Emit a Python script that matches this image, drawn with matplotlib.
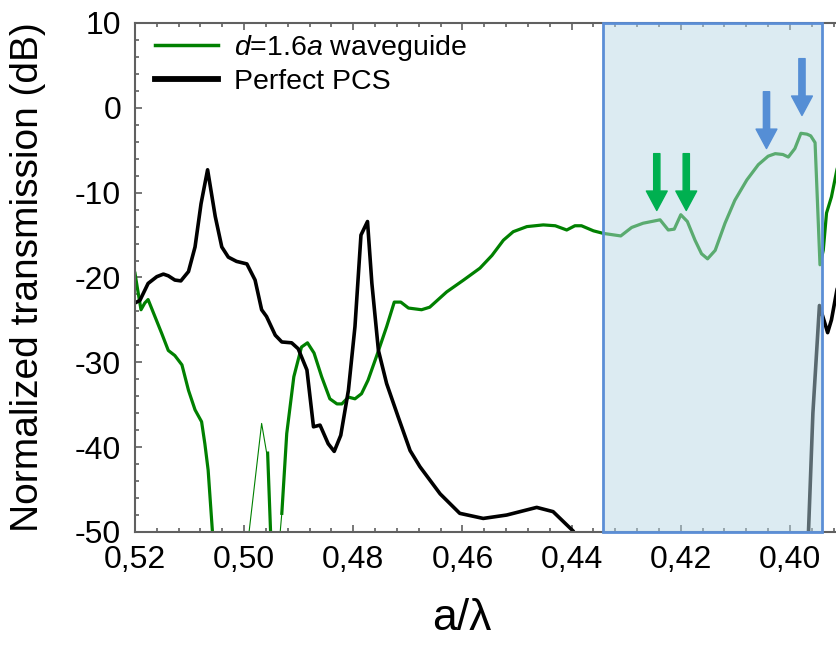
import numpy as np
import matplotlib
matplotlib.use('Agg')
import matplotlib.pyplot as plt
from matplotlib.lines import Line2D
from matplotlib.patches import Rectangle
from matplotlib.ticker import MultipleLocator

plt.rcParams['font.family'] = ['Liberation Sans', 'DejaVu Sans']
plt.rcParams['mathtext.fontset'] = 'custom'
plt.rcParams['mathtext.rm'] = 'Liberation Sans'
plt.rcParams['mathtext.it'] = 'Liberation Sans:italic'

# d=1.6a waveguide (thick line, NaN = gap below -50 dB)
green_x = [0.5200, 0.5196, 0.5189, 0.5182, 0.5176, 0.5166, 0.5151, 0.5139, 0.5127, 0.5114,
           0.5102, 0.5090, 0.5078, 0.5072, 0.5066, 0.5057, np.nan,
           0.4957, 0.4951, np.nan,
           0.4931, 0.4922, 0.4909, 0.4895, 0.4884, 0.4872, 0.4858, 0.4843, 0.4830, 0.4821,
           0.4809, 0.4797, 0.4785, 0.4773, 0.4757, 0.4739, 0.4725, 0.4713, 0.4699, 0.4675,
           0.4660, 0.4629, 0.4598, 0.4568, 0.4546, 0.4525, 0.4507, 0.4482, 0.4452, 0.4430,
           0.4409, 0.4394, 0.4382, 0.4360, 0.4342, 0.4310, 0.4290, 0.4269, 0.4238, 0.4223,
           0.4212, 0.4200, 0.4188, 0.4174, 0.4162, 0.4151, 0.4137, 0.4119, 0.4101, 0.4079,
           0.4058, 0.4040, 0.4027, 0.4013, 0.4003, 0.3991, 0.3980, 0.3969, 0.3962, 0.3954,
           0.3945, 0.3939, 0.3933, 0.3924, 0.3914, 0.3904]
green_y = [-19.5, -21.1, -23.8, -23.0, -22.6, -24.2, -26.6, -28.6, -29.2, -30.3,
           -33.3, -35.6, -37.0, -39.6, -42.7, -51.0, np.nan,
           -40.7, -51.0, np.nan,
           -47.8, -38.4, -31.7, -28.2, -27.7, -28.9, -31.7, -34.3, -34.9, -34.9,
           -34.1, -34.3, -33.7, -32.1, -29.2, -25.8, -22.9, -22.9, -23.6, -23.8,
           -23.5, -21.7, -20.3, -18.9, -17.4, -15.6, -14.6, -14.0, -13.8, -13.9,
           -14.4, -13.9, -13.9, -14.5, -14.8, -15.1, -14.1, -13.6, -13.2, -14.4,
           -14.3, -12.6, -13.4, -15.6, -17.2, -17.8, -16.8, -13.6, -10.9, -8.5,
           -6.7, -5.7, -5.4, -5.5, -5.8, -4.8, -3.0, -3.1, -3.3, -4.1,
           -18.5, -16.8, -12.4, -10.5, -7.3, -5.0]

# thin green pieces
green_thin_x = [0.4991, 0.4968, 0.4959, np.nan, 0.4934, 0.4931]
green_thin_y = [-50.0, -37.2, -40.6, np.nan, -50.0, -47.8]

# Perfect PCS
pcs_x = [0.5200, 0.5191, 0.5176, 0.5160, 0.5148, 0.5139, 0.5127, 0.5116, 0.5102, 0.5090,
         0.5079, 0.5067, 0.5053, 0.5041, 0.5029, 0.5014, 0.4995, 0.4980, 0.4968, 0.4959,
         0.4943, 0.4931, 0.4913, 0.4901, 0.4885, 0.4873, 0.4861, 0.4846, 0.4835, 0.4823,
         0.4809, 0.4797, 0.4786, 0.4774, 0.4766, 0.4754, 0.4739, 0.4718, 0.4696, 0.4678,
         0.4641, 0.4605, 0.4562, 0.4519, 0.4464, 0.4434, 0.4397, 0.4385, np.nan,
         0.3967, 0.3958, 0.3946, 0.3936, 0.3931, 0.3924, 0.3914, 0.3905]
pcs_y = [-23.0, -22.7, -20.7, -19.9, -19.6, -19.8, -20.3, -20.4, -19.3, -16.4,
         -11.3, -7.3, -12.8, -16.4, -17.6, -18.1, -18.4, -20.3, -23.8, -24.6,
         -26.8, -27.6, -27.7, -28.4, -30.9, -37.6, -37.4, -39.6, -40.5, -38.6,
         -33.3, -25.8, -15.0, -13.4, -20.7, -28.6, -32.5, -36.4, -40.4, -42.3,
         -45.5, -47.8, -48.4, -48.0, -47.1, -47.6, -49.9, -51.6, np.nan,
         -51.6, -36.0, -23.3, -25.4, -26.5, -25.0, -21.5, -19.1]

# highlighted band and arrows
band = (0.4343, 0.3941)
green_arrow_x = [0.4244, 0.4190]
green_arrow_y = [(-5.4, -12.1), (-5.4, -12.1)]
blue_arrow_x = [0.4043, 0.3978]
blue_arrow_y = [(1.9, -4.8), (5.8, -0.9)]

xticks = [0.52, 0.50, 0.48, 0.46, 0.44, 0.42, 0.40]
xticklabels = ['0,52', '0,50', '0,48', '0,46', '0,44', '0,42', '0,40']
yticks = [10, 0, -10, -20, -30, -40, -50]
yticklabels = ['10', '0', '-10', '-20', '-30', '-40', '-50']

fig = plt.figure(figsize=(8.37, 6.48), dpi=100)
ax = fig.add_axes([135 / 837, 1 - 532 / 648, 715 / 837, 509 / 648])

ax.plot(green_x, green_y, color='#008000', lw=2.3, zorder=2)
ax.plot(green_thin_x, green_thin_y, color='#008000', lw=0.8, zorder=2)
ax.plot(pcs_x, pcs_y, color='black', lw=2.6, zorder=2)

# translucent band drawn over the curves
ax.axvspan(band[0], band[1], facecolor='#b8d8e5', alpha=0.49, lw=0, zorder=3)
ax.add_patch(Rectangle((band[0], -50), band[1] - band[0], 60, fill=False,
                       edgecolor='#5b8ed6', lw=2, zorder=4, clip_on=False))

arrow_style = 'simple,head_length=14,head_width=15,tail_width=4.5'
for x, (y0, y1) in zip(green_arrow_x, green_arrow_y):
    ax.annotate('', xy=(x, y1), xytext=(x, y0),
                arrowprops=dict(arrowstyle=arrow_style, mutation_scale=1,
                                color='#00b050', shrinkA=0, shrinkB=0),
                zorder=5)
for x, (y0, y1) in zip(blue_arrow_x, blue_arrow_y):
    ax.annotate('', xy=(x, y1), xytext=(x, y0),
                arrowprops=dict(arrowstyle=arrow_style, mutation_scale=1,
                                color='#558ed5', shrinkA=0, shrinkB=0),
                zorder=5)

ax.set_xlim(0.52, 0.3890)
ax.set_ylim(-50, 10)
ax.set_xticks(xticks)
ax.set_xticklabels(xticklabels)
ax.set_yticks(yticks)
ax.set_yticklabels(yticklabels)
ax.xaxis.set_minor_locator(MultipleLocator(0.004))
ax.yaxis.set_minor_locator(MultipleLocator(2))
ax.tick_params(which='both', direction='in', top=True, right=False, color='#606060', width=1.2)
ax.tick_params(which='major', length=5, labelsize=23)
ax.tick_params(which='minor', length=3)
ax.tick_params(axis='x', pad=9)
ax.tick_params(axis='y', pad=10)
for side in ['left', 'bottom', 'top']:
    ax.spines[side].set_color('#606060')
    ax.spines[side].set_linewidth(1.5)
ax.spines['right'].set_visible(False)

ax.set_xlabel('a/\u03bb', fontsize=32)
ax.xaxis.set_label_coords(0.457, -0.13)
ax.set_ylabel('Normalized transmission (dB)', fontsize=28)
ax.yaxis.set_label_coords(-0.125, 0.5)

handles = [Line2D([], [], color='#008000', lw=2.5),
           Line2D([], [], color='black', lw=4.2)]
labels = ['$d$=1.6$a$ waveguide', 'Perfect PCS']
ax.legend(handles, labels, loc='upper left', bbox_to_anchor=(0.028, 0.98),
          frameon=False, fontsize=20.5, handlelength=2.2, handletextpad=0.56,
          labelspacing=0.22, borderpad=0, borderaxespad=0)

fig.savefig('out.png', dpi=100)
